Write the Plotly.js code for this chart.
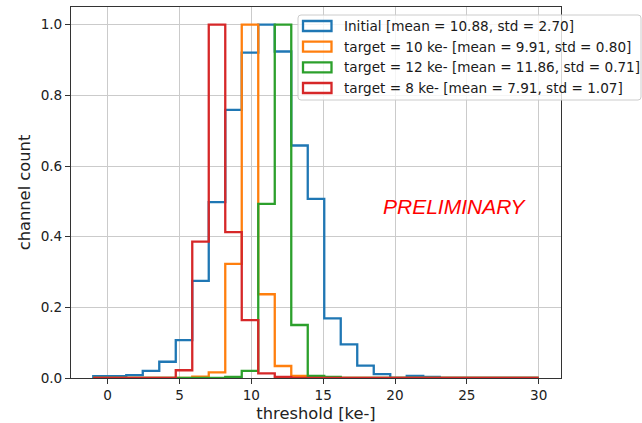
<!DOCTYPE html>
<html>
<head>
<meta charset="utf-8">
<script src="https://cdn.plot.ly/plotly-3.0.1.min.js"></script>
<style>
  html, body { margin: 0; padding: 0; background: #ffffff; }
  #chart { width: 642px; height: 423px; }
</style>
</head>
<body>
<div id="chart"></div>
<script>
// Histogram bin edges (27 equal bins from -1 to 30 ke-)
const binEdges = [-1, 0.148, 1.296, 2.444, 3.593, 4.741, 5.889, 7.037, 8.185, 9.333,
  10.481, 11.630, 12.778, 13.926, 15.074, 16.222, 17.370, 18.519, 19.667, 20.815,
  21.963, 23.111, 24.259, 25.407, 26.556, 27.704, 28.852, 30.0];

// Normalised channel counts per bin
const initialCounts = [0.005, 0.005, 0.008, 0.02, 0.046, 0.107, 0.275, 0.498, 0.759, 0.921,
  1.0, 0.924, 0.658, 0.507, 0.169, 0.095, 0.035, 0.011, 0, 0.006, 0.003, 0, 0, 0, 0, 0, 0];
const target10Counts = [0, 0, 0, 0, 0, 0, 0.004, 0.016, 0.323, 1.0,
  0.237, 0.034, 0.006, 0, 0, 0, 0, 0, 0, 0, 0, 0, 0, 0, 0, 0, 0];
const target12Counts = [0, 0, 0, 0, 0, 0, 0, 0, 0.003, 0.02,
  0.493, 1.0, 0.150, 0.006, 0.003, 0, 0, 0, 0, 0, 0, 0, 0, 0, 0, 0, 0];
const target8Counts = [0, 0, 0, 0, 0, 0.022, 0.386, 1.0, 0.413, 0.164,
  0.013, 0.003, 0, 0, 0, 0, 0, 0, 0, 0, 0, 0, 0, 0, 0, 0, 0];

const seriesLabels = [
  'Initial [mean = 10.88, std = 2.70]',
  'target = 10 ke- [mean = 9.91, std = 0.80]',
  'target = 12 ke- [mean = 11.86, std = 0.71]',
  'target = 8 ke- [mean = 7.91, std = 1.07]'
];
const seriesCounts = [initialCounts, target10Counts, target12Counts, target8Counts];
const seriesColors = ['#1f77b4', '#ff7f0e', '#2ca02c', '#d62728'];

const xTicks = [0, 5, 10, 15, 20, 25, 30];
const yTicks = [0, 0.2, 0.4, 0.6, 0.8, 1.0];

// Step outline of a histogram: rise at first edge, run across bins, drop at last edge
function stepOutline(edges, counts) {
  const x = [edges[0]];
  const y = [0];
  for (let i = 0; i < counts.length; i++) {
    x.push(edges[i]);
    y.push(counts[i]);
  }
  x.push(edges[edges.length - 1]);
  y.push(0);
  return { x, y };
}

const traces = seriesCounts.map((counts, i) => {
  const s = stepOutline(binEdges, counts);
  return {
    type: 'scatter', mode: 'lines', x: s.x, y: s.y,
    line: { shape: 'hv', color: seriesColors[i], width: 2.3 },
    name: seriesLabels[i], showlegend: false, hoverinfo: 'skip'
  };
});

// Plot area in pixels, used to place the legend box in paper units
const L = 71, R = 561, T = 7, B = 378, W = 642, H = 423;
const pw = R - L, ph = B - T;
const px = v => (v - L) / pw;
const py = v => (B - v) / ph;

const shapes = [];
const annotations = [];

// Legend frame with slightly rounded corners
(function () {
  const x0 = 298, x1 = 641, y0 = 15, y1 = 100, r = 3;
  const pts = [
    `M${px(x0 + r)},${py(y0)}`,
    `L${px(x1 - r)},${py(y0)}`,
    `Q${px(x1)},${py(y0)} ${px(x1)},${py(y0 + r)}`,
    `L${px(x1)},${py(y1 - r)}`,
    `Q${px(x1)},${py(y1)} ${px(x1 - r)},${py(y1)}`,
    `L${px(x0 + r)},${py(y1)}`,
    `Q${px(x0)},${py(y1)} ${px(x0)},${py(y1 - r)}`,
    `L${px(x0)},${py(y0 + r)}`,
    `Q${px(x0)},${py(y0)} ${px(x0 + r)},${py(y0)}`,
    'Z'
  ].join(' ');
  shapes.push({
    type: 'path', xref: 'paper', yref: 'paper', path: pts,
    fillcolor: 'rgba(255,255,255,0.8)', line: { color: '#cccccc', width: 1 }, layer: 'above'
  });
})();

const rowCenters = [26, 46.7, 67.4, 88];
seriesLabels.forEach((label, i) => {
  const cy = rowCenters[i];
  shapes.push({
    type: 'rect', xref: 'paper', yref: 'paper',
    x0: px(303), x1: px(331.5), y0: py(cy + 5), y1: py(cy - 5),
    line: { color: seriesColors[i], width: 2.3 }, fillcolor: 'rgba(0,0,0,0)', layer: 'above'
  });
  annotations.push({
    xref: 'paper', yref: 'paper', x: px(342), y: py(cy),
    xanchor: 'left', yanchor: 'middle', showarrow: false, text: label,
    font: { family: 'DejaVu Sans', size: 13.6, color: '#1a1a1a' }
  });
});

annotations.push({
  xref: 'paper', yref: 'paper', x: px(454.7), y: py(206),
  xanchor: 'center', yanchor: 'middle', showarrow: false,
  text: '<i>PRELIMINARY</i>',
  font: { family: 'Liberation Sans', size: 21, color: '#ff0000' }
});

const axisCommon = {
  showline: true, linecolor: '#333333', linewidth: 1, mirror: true,
  ticks: 'outside', ticklen: 5, tickwidth: 1, tickcolor: '#333333',
  showgrid: true, gridcolor: '#cbcbcb', gridwidth: 1,
  zeroline: false,
  tickfont: { family: 'DejaVu Sans', size: 13.6, color: '#222222' }
};

const layout = {
  width: W, height: H,
  margin: { l: L, r: W - R, t: T, b: H - B, pad: 0 },
  paper_bgcolor: '#ffffff', plot_bgcolor: '#ffffff',
  showlegend: false,
  xaxis: Object.assign({}, axisCommon, {
    range: [-2.55, 31.55], tickmode: 'array', tickvals: xTicks,
    ticktext: xTicks.map(String),
    title: { text: 'threshold [ke-]', standoff: 7,
      font: { family: 'DejaVu Sans', size: 16.3, color: '#222222' } }
  }),
  yaxis: Object.assign({}, axisCommon, {
    range: [0, 1.05], tickmode: 'array', tickvals: yTicks,
    ticktext: yTicks.map(v => v.toFixed(1)),
    title: { text: 'channel count', standoff: 5,
      font: { family: 'DejaVu Sans', size: 16.3, color: '#222222' } }
  }),
  shapes: shapes,
  annotations: annotations
};

Plotly.newPlot('chart', traces, layout, { staticPlot: true, displayModeBar: false });
</script>
</body>
</html>
